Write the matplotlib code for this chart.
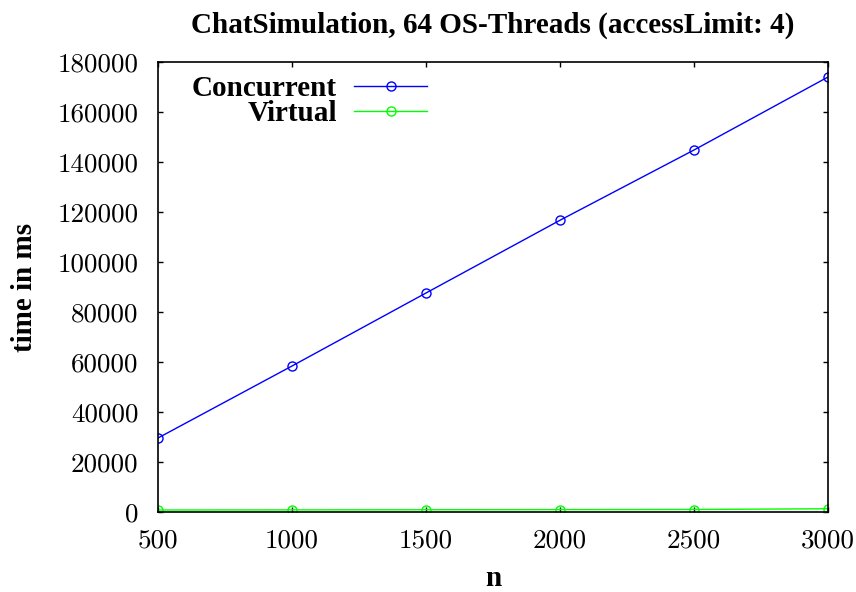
import matplotlib
matplotlib.use("Agg")
import matplotlib.pyplot as plt

# data
n = [500, 1000, 1500, 2000, 2500, 3000]
concurrent = [29600, 58400, 87600, 116700, 144800, 174000]
virtual = [800, 850, 900, 950, 1000, 1300]

fig = plt.figure(figsize=(8.56, 5.92), dpi=100)
ax = fig.add_axes([158 / 856, 80 / 592, 670 / 856, 450 / 592])

ax.plot(n, concurrent, color="#0000ff", lw=1, marker="o", ms=6.5, mfc="none",
        mew=1, label="Concurrent")
ax.plot(n, virtual, color="#00ff00", lw=1, marker="o", ms=6.5, mfc="none",
        mew=1, label="Virtual")

ax.set_xlim(500, 3000)
ax.set_ylim(0, 180000)
ax.set_xticks(n)
ax.set_yticks(range(0, 180001, 20000))
ax.tick_params(direction="in", top=True, right=True, length=3.5, width=1,
               labelsize=19.5)
ax.tick_params(axis="x", pad=12)
ax.tick_params(axis="y", pad=14)
for lab in ax.get_xticklabels() + ax.get_yticklabels():
    lab.set_fontfamily("cmr10")
for s in ax.spines.values():
    s.set_linewidth(1.2)

bold = dict(family="Liberation Serif", weight="bold")
ax.set_title("ChatSimulation, 64 OS-Threads (accessLimit: 4)", fontsize=21,
             pad=21, **bold)
ax.set_xlabel("n", fontsize=21, va="baseline", **bold)
ax.xaxis.set_label_coords(0.5, -74 / 450)
ax.set_ylabel("time in ms", fontsize=21, va="center", **bold)
ax.yaxis.set_label_coords(-133 / 670, 0.5)

leg = ax.legend(loc="upper left", markerfirst=False, frameon=False,
                prop=dict(family="Liberation Serif", weight="bold", size=21),
                handlelength=2.5, handletextpad=0.6, labelspacing=-0.07,
                borderaxespad=0.0, bbox_to_anchor=(0.033, 0.997))
# right-align the entries like gnuplot's key
leg._legend_handle_box.get_children()[0].align = "right"

fig.savefig("out.png", dpi=100)
